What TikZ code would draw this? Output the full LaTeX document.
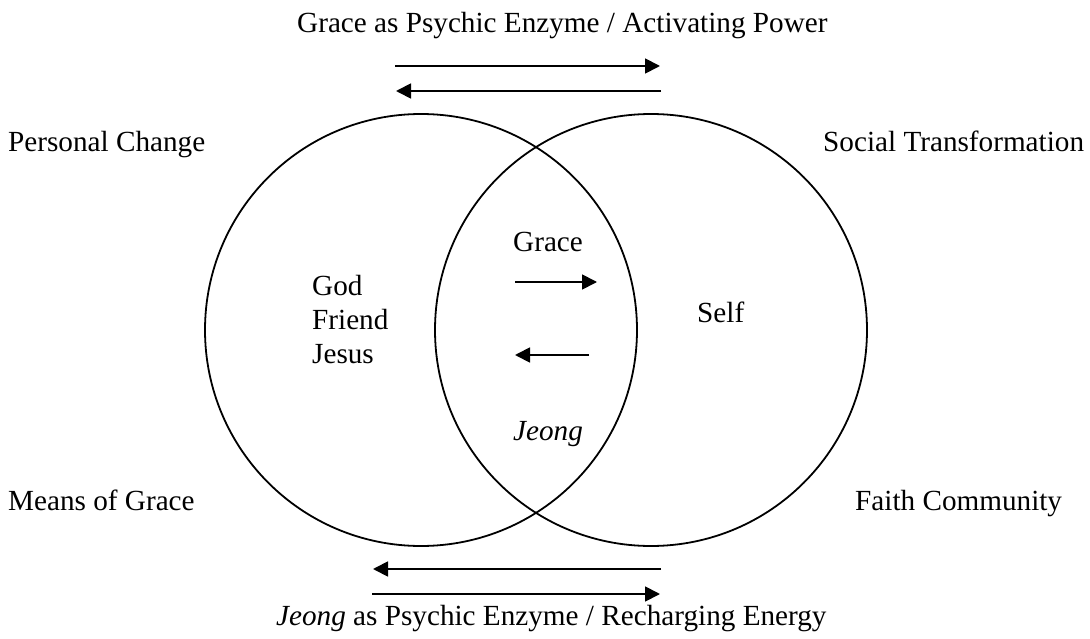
\documentclass[tikz,border=0pt]{standalone}
\usepackage{fontspec}
\setmainfont{Liberation Serif}
\usetikzlibrary{arrows.meta}
\begin{document}
\begin{tikzpicture}[x=1pt,y=-1pt,
  lbl/.style={inner sep=0pt, anchor=base west, font=\fontsize{29.2}{34}\selectfont},
  ring/.style={draw, circle, line width=1.8pt, minimum size=432pt, inner sep=0pt},
  arr/.style={line width=1.8pt, -{Triangle[length=15pt,width=15pt]}}]
\useasboundingbox (0,0) rectangle (1090,639);
% circles
\node[ring] (L) at (421,330) {};
\node[ring] (R) at (651,330) {};
% labels outside
\node[lbl] (title) at (297,33) {Grace as Psychic Enzyme / Activating Power};
\node[lbl] (btitle) at (276,625) {\textit{Jeong} as Psychic Enzyme / Recharging Energy};
\node[lbl] (pc) at (8,152) {Personal Change};
\node[lbl] (st) at (823,152) {Social Transformation};
\node[lbl] (mg) at (8,510) {Means of Grace};
\node[lbl] (fc) at (855,510) {Faith Community};
% inner labels
\node[lbl] (god) at (312,295) {God};
\node[lbl] (friend) at (312,329) {Friend};
\node[lbl] (jesus) at (312,363) {Jesus};
\node[lbl] (grace) at (513,252) {Grace};
\node[lbl] (jeong) at (513,440) {\textit{Jeong}};
\node[lbl] (self) at (697,322) {Self};
% arrow end points
\coordinate (t1a) at (395,66);  \coordinate (t1b) at (660,66);
\coordinate (t2a) at (661,91);  \coordinate (t2b) at (396,91);
\coordinate (b1a) at (661,569); \coordinate (b1b) at (373,569);
\coordinate (b2a) at (372,594); \coordinate (b2b) at (660,594);
\coordinate (i1a) at (515,282); \coordinate (i1b) at (597,282);
\coordinate (i2a) at (589,355); \coordinate (i2b) at (515,355);
\draw[arr] (t1a) -- (t1b);
\draw[arr] (t2a) -- (t2b);
\draw[arr] (b1a) -- (b1b);
\draw[arr] (b2a) -- (b2b);
\draw[arr] (i1a) -- (i1b);
\draw[arr] (i2a) -- (i2b);
\end{tikzpicture}
\end{document}
